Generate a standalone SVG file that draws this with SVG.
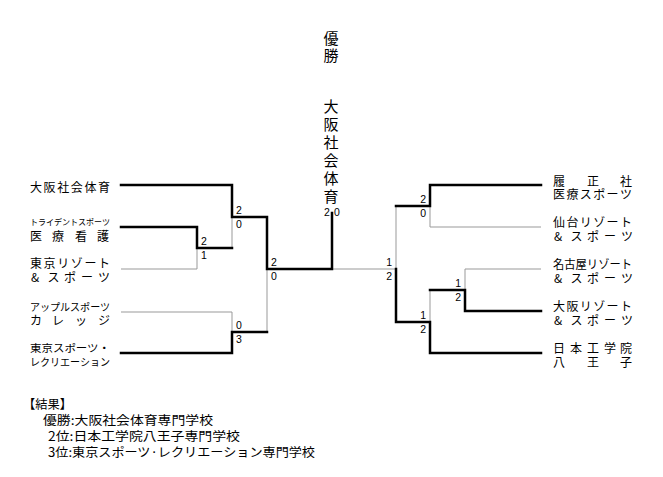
<svg xmlns="http://www.w3.org/2000/svg" width="663" height="477" viewBox="0 0 663 477">
<style>
text{font-family:"Noto Sans CJK JP","Liberation Sans",sans-serif;fill:#000}
.lb{font-size:12px}
.sm{font-size:8.5px}
.md{font-size:10.5px}
.sc{font-family:"Liberation Sans",sans-serif;font-size:10.5px}
.ct{font-size:15px}
.rs{font-size:12.5px}
.thick{fill:none;stroke:#000;stroke-width:2.5;stroke-linejoin:miter;stroke-linecap:square}
.thin{fill:none;stroke:#999;stroke-width:1}
</style>
<rect width="663" height="477" fill="#fff"/>
<g id="connectors">
<path class="thin" d="M121,269 H197 V248 M232,217 V248 M121,312 H232 V332 M267,269 V332"/>
<path class="thin" d="M332,269 H396 M396,206 V269 M541,227 H430 V206 M430,322 V290 M465,290 V269 H541"/>
<path class="thick" d="M121,185 H232 V217 H267 V269 H332 V213"/>
<path class="thick" d="M121,227 H197 V248 H232"/>
<path class="thick" d="M121,353 H232 V332 H267"/>
<path class="thick" d="M541,185 H430 V206 H396"/>
<path class="thick" d="M396,269 V322 H430 V353 H541"/>
<path class="thick" d="M430,290 H465 V311 H541"/>
</g>
<g id="champion">
<text class="ct" text-anchor="middle" x="331 331" y="44 61">優勝</text>
<text class="ct" text-anchor="middle" x="331 331 331 331 331 331" y="112 130 148 166 184 202">大阪社会体育</text>
<text class="sc" x="324" y="216">2</text>
<text class="sc" x="334" y="216">0</text>
</g>
<g id="team-L1">
<text class="lb" x="30 43.6 57.2 70.8 84.4 98" y="192">大阪社会体育</text>
</g>
<g id="team-L2">
<text class="sm" x="30" y="225" textLength="80" lengthAdjust="spacingAndGlyphs">トライデントスポーツ</text>
<text class="lb" x="30 52 75 97" y="241">医療看護</text>
</g>
<g id="team-L3">
<text class="lb" x="30 43.6 57.2 70.8 84.4 98" y="268">東京リゾート</text>
<text class="lb" x="31 47.5 64 81 98" y="282">&amp;スポーツ</text>
</g>
<g id="team-L4">
<text class="md" x="30" y="311" textLength="80" lengthAdjust="spacingAndGlyphs">アップルスポーツ</text>
<text class="lb" x="30 52 75 98" y="325">カレッジ</text>
</g>
<g id="team-L5">
<text class="md" x="30" y="352" textLength="80" lengthAdjust="spacingAndGlyphs">東京スポーツ・</text>
<text class="md" x="30" y="366" textLength="80" lengthAdjust="spacingAndGlyphs">レクリエーション</text>
</g>
<g id="team-R1">
<text class="lb" x="553 587 620" y="186">履正社</text>
<text class="lb" x="553 566.4 579.8 593.2 606.6 620" y="199">医療スポーツ</text>
</g>
<g id="team-R2">
<text class="lb" x="553 566.4 579.8 593.2 606.6 620" y="227">仙台リゾート</text>
<text class="lb" x="554 570.5 587 604 621" y="241">&amp;スポーツ</text>
</g>
<g id="team-R3">
<text class="lb" x="553" y="269" textLength="79" lengthAdjust="spacingAndGlyphs">名古屋リゾート</text>
<text class="lb" x="554 570.5 587 604 621" y="283">&amp;スポーツ</text>
</g>
<g id="team-R4">
<text class="lb" x="553 566.4 579.8 593.2 606.6 620" y="311">大阪リゾート</text>
<text class="lb" x="554 570.5 587 604 621" y="325">&amp;スポーツ</text>
</g>
<g id="team-R5">
<text class="lb" x="553 570 587 604 620" y="353">日本工学院</text>
<text class="lb" x="553 587 620" y="367">八王子</text>
</g>
<g id="scores">
<text class="sc" x="236" y="214">2</text>
<text class="sc" x="236" y="228">0</text>
<text class="sc" x="201" y="245">2</text>
<text class="sc" x="201" y="259">1</text>
<text class="sc" x="271" y="266">2</text>
<text class="sc" x="271" y="280">0</text>
<text class="sc" x="236" y="329">0</text>
<text class="sc" x="236" y="343">3</text>
<text class="sc" x="426" y="203" text-anchor="end">2</text>
<text class="sc" x="426" y="217" text-anchor="end">0</text>
<text class="sc" x="392" y="266" text-anchor="end">1</text>
<text class="sc" x="392" y="280" text-anchor="end">2</text>
<text class="sc" x="426" y="319" text-anchor="end">1</text>
<text class="sc" x="426" y="333" text-anchor="end">2</text>
<text class="sc" x="461" y="287" text-anchor="end">1</text>
<text class="sc" x="461" y="301" text-anchor="end">2</text>
</g>
<g id="result">
<text class="rs" x="23" y="409" textLength="49" lengthAdjust="spacingAndGlyphs">【結果】</text>
<text class="rs" x="43" y="425" textLength="170" lengthAdjust="spacingAndGlyphs">優勝:大阪社会体育専門学校</text>
<text class="rs" x="48" y="441" textLength="192" lengthAdjust="spacingAndGlyphs">2位:日本工学院八王子専門学校</text>
<text class="rs" x="48" y="457" textLength="267" lengthAdjust="spacingAndGlyphs">3位:東京スポーツ·レクリエーション専門学校</text>
</g>
</svg>
